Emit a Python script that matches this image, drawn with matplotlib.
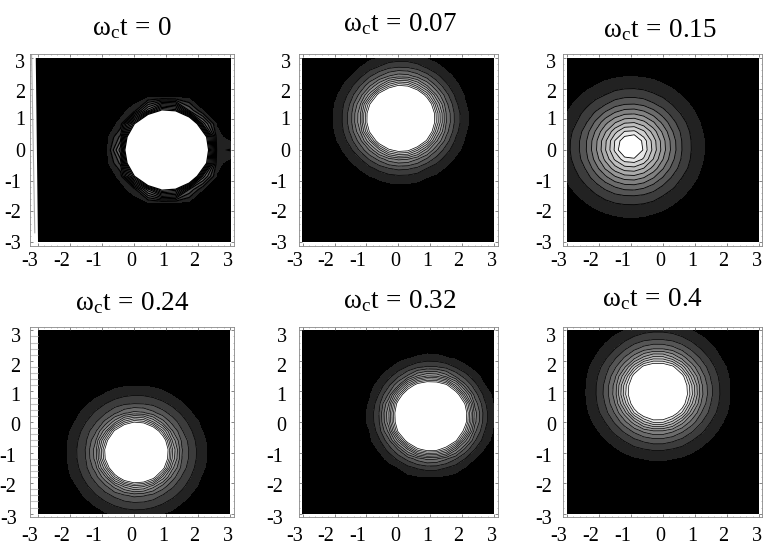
import numpy as np
import matplotlib
matplotlib.use('Agg')
import matplotlib.pyplot as plt
from matplotlib.transforms import ScaledTranslation

plt.rcParams['font.family'] = ['Liberation Serif', 'DejaVu Serif']
plt.rcParams['mathtext.fontset'] = 'custom'
plt.rcParams['mathtext.rm'] = 'Liberation Serif'
plt.rcParams['mathtext.it'] = 'Liberation Serif'

W, H = 763, 545

titles = ['0', '0.07', '0.15', '0.24', '0.32', '0.4']
tick_vals = [-3, -2, -1, 0, 1, 2, 3]
tick_text = ['-3', '-2', '-1', '0', '1', '2', '3']

# blob centres
centre_x = [1.0, 0.08, -1.0, 0.08, 1.01, -0.16]
centre_y = [0.0, 1.03, 0.10, -1.0, 0.20, 1.0]

# contour radii, outermost first, the last one is the white edge
radii_0 = [1.72, 1.53, 1.50, 1.47, 1.44, 1.42, 1.40, 1.38, 1.36, 1.34, 1.31]
radii_1 = [2.09, 1.82, 1.67, 1.53, 1.43, 1.35, 1.27, 1.22, 1.16, 1.12, 1.08]
radii_2 = [2.29, 1.88, 1.59, 1.40, 1.23, 1.08, 0.93, 0.80, 0.66, 0.55, 0.36]
radii_3 = [2.16, 1.87, 1.60, 1.43, 1.33, 1.25, 1.18, 1.13, 1.09, 1.04, 1.00]
radii_4 = [1.97, 1.77, 1.62, 1.50, 1.42, 1.37, 1.31, 1.27, 1.23, 1.19, 1.15]
radii_5 = [2.25, 1.93, 1.70, 1.53, 1.40, 1.29, 1.21, 1.14, 1.08, 1.02, 0.97]
all_radii = [radii_0, radii_1, radii_2, radii_3, radii_4, radii_5]

# level reached in the middle of each blob
peaks = [60, 30, 14, 30, 30, 20]

# grey of each band, black outside to white inside
band_grey = ['#000000', '#222222', '#3c3c3c', '#555555', '#6b6b6b', '#808080',
             '#969696', '#aaaaaa', '#bdbdbd', '#d0d0d0', '#e8e8e8', '#ffffff']

# black area and frame of each panel in pixels: left, right, top, bottom
black_px = [(38, 230.5, 58, 242), (302.7, 494, 58, 242), (567, 759, 58, 242),
            (38, 230, 330.3, 513.7), (302.7, 494, 330.3, 513.7), (567, 759, 330.3, 513.7)]
frame_px = [(30, 234, 54, 246), (298.7, 498, 54, 246), (563, 762, 54, 246),
            (29.5, 234, 326.7, 517), (298.7, 498, 326.7, 517), (563, 762, 326.7, 517)]
title_px = [(132, 35), (400, 31), (660, 37), (132, 310), (400, 308), (652, 306)]

# where the tick labels sit in the reference, pixels from the tick
xlabel_dx = [-8.5, -8.5, -8.5, -3, -3, -4, -2]
ylabel_dy_top = [0, 0, 0, 0, -1, 2, 3]
ylabel_dy_bottom = [3, 2, 2, 2, 3, 4, 5]
ylabel_gap = [5, 8, 7, 9, 12, 7]
grid_points = [15, 21, 21, 21, 21, 21]
line_width = [0.9, 0.5, 0.6, 0.5, 0.5, 0.5]

fig = plt.figure(figsize=(W / 100, H / 100), dpi=100)


def px_shift(dx, dy):
    return ScaledTranslation(dx / 100, -dy / 100, fig.dpi_scale_trans)


for i in range(6):
    l, r, t, b = frame_px[i]
    bl, br, bt, bb = black_px[i]
    ax = fig.add_axes([l / W, 1 - b / H, (r - l) / W, (b - t) / H])
    sx = (br - bl) / 6
    sy = (bb - bt) / 6
    ax.set_xlim(-3 - (bl - l) / sx, 3 + (r - br) / sx)
    ax.set_ylim(-3 - (b - bb) / sy, 3 + (bt - t) / sy)

    gx = np.linspace(-3, 3, grid_points[i])
    X, Y = np.meshgrid(gx, gx)
    rad = np.array(all_radii[i])[::-1]
    lev = np.arange(10, -1, -1) * 1.0
    xp = np.concatenate([[0], rad, [rad[-1] + 0.5]])
    fp = np.concatenate([[peaks[i]], lev, [-1]])
    R = np.hypot(X - centre_x[i], Y - centre_y[i])
    Z = np.interp(R, xp, fp)
    if i == 0:
        Z[7, 14] = 1.1  # odd bump on the right edge of the first panel

    ax.contourf(X, Y, Z, levels=[-100] + list(range(0, 11)) + [1000], colors=band_grey)
    ax.contour(X, Y, Z, levels=list(range(1, 11)), colors='k', linewidths=line_width[i])

    ax.set_xticks(tick_vals)
    ax.set_yticks(tick_vals)
    ax.set_xticklabels(tick_text)
    ax.set_yticklabels(tick_text)
    ax.set_xticks(np.arange(-3, 3.01, 0.2), minor=True)
    ax.set_yticks(np.arange(-3, 3.01, 0.2), minor=True)
    xpad = 4.5 if i < 3 else 7.5
    ax.tick_params(which='major', direction='in', length=2, width=0.5, color='#555555',
                   labelsize=14.5, top=True, right=True)
    ax.tick_params(axis='x', which='major', pad=xpad)
    ax.tick_params(axis='y', which='major', pad=ylabel_gap[i] * 0.72)
    ax.tick_params(which='minor', direction='in', length=1, width=0.4, color='#888888',
                   top=True, right=True)
    for k, lab in enumerate(ax.get_xticklabels()):
        lab.set_transform(lab.get_transform() + px_shift(xlabel_dx[k], 0))
    dys = ylabel_dy_top if i < 3 else ylabel_dy_bottom
    for k, lab in enumerate(ax.get_yticklabels()):
        neg = -4 if tick_vals[k] < 0 else 0
        lab.set_transform(lab.get_transform() + px_shift(neg, dys[k]))
    for s in ax.spines.values():
        s.set_linewidth(0.6)
        s.set_color('#888888')

    if i == 0:
        # the black square leans out to the left at the top, with a grey edge next to it
        ax.fill([-3.0, -3.07, -3.0], [3, 3, -3], color='k', lw=0)
        ax.plot([-3.2, -3.1], [3.1, -2.7], color='#aaaaaa', lw=0.8)
    if i == 3:
        # this panel has long pale ticks on the left side only
        for tick in ax.yaxis.get_minor_ticks():
            tick.tick1line.set_markersize(6)
            tick.tick1line.set_markeredgewidth(0.8)
            tick.tick1line.set_markeredgecolor('#c4c4c4')

    tx, ty = title_px[i]
    fig.text(tx / W, 1 - ty / H, r'$\mathrm{\omega_c t\,=\,' + titles[i] + '}$',
             fontsize=19.5, ha='center', va='baseline')

fig.savefig('out.png', dpi=100)
